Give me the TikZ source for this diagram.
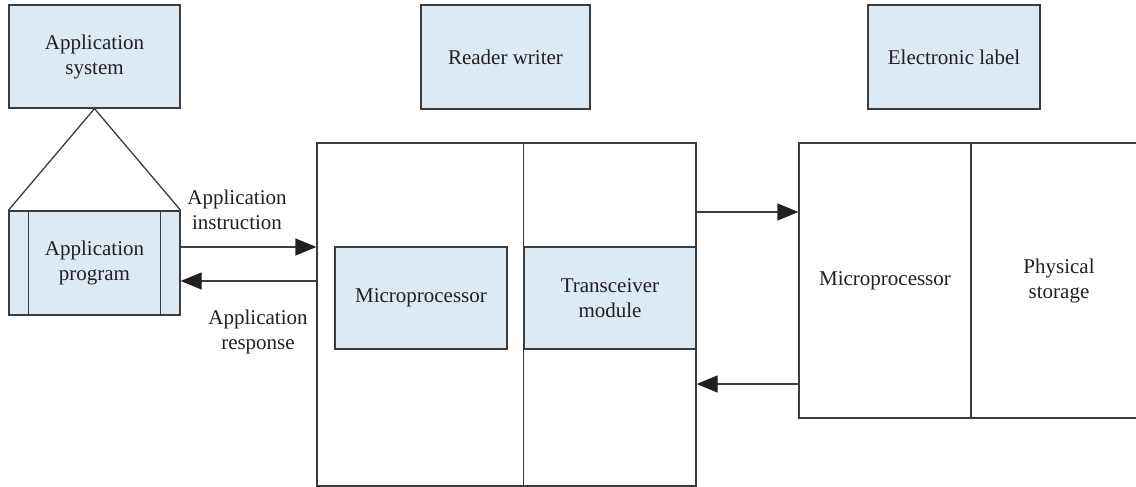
\documentclass[tikz,border=0pt]{standalone}
\usepackage{fontspec}
\setmainfont{Liberation Serif}
\usetikzlibrary{arrows.meta}
\definecolor{boxfill}{RGB}{221,233,243}
\definecolor{linegray}{RGB}{60,60,60}
\definecolor{ink}{RGB}{35,31,32}
\tikzset{
  x=1pt, y=-1pt,
  every node/.style={font=\rmfamily\fontsize{21}{25}\selectfont, text=ink, align=center, inner sep=0pt},
  bluebox/.style={draw=linegray, line width=1.3pt, fill=boxfill, rectangle},
  plainbox/.style={draw=linegray, line width=1.3pt, rectangle},
  wire/.style={draw=linegray, line width=1.3pt},
  arr/.style={wire, -{Triangle[length=21pt,width=17pt,fill=ink,color=ink]}},
}
\begin{document}
\begin{tikzpicture}
\useasboundingbox (0,0) rectangle (1136,487);
\clip (0,0) rectangle (1136,487);

% top row
\node[bluebox, minimum width=171pt, minimum height=103pt] (appsys) at (94.5,56.5) {Application\\system};
\node[bluebox, minimum width=169pt, minimum height=104pt] (reader) at (505.5,57) {Reader writer};
\node[bluebox, minimum width=172pt, minimum height=104pt] (elabel) at (954,57) {Electronic label};

% application program with side bars
\node[bluebox, minimum width=171pt, minimum height=104pt] (appprog) at (94.5,263) {Application\\program};
\draw[wire] ([xshift=20pt]appprog.north west) -- ([xshift=20pt]appprog.south west);
\draw[wire] ([xshift=-20pt]appprog.north east) -- ([xshift=-20pt]appprog.south east);
\draw[wire] (appprog.north west) -- (appsys.south) -- (appprog.north east);

% reader writer block
\node[plainbox, minimum width=379pt, minimum height=343pt] (rw) at (506.5,314.5) {};
\node[bluebox, minimum width=172pt, minimum height=102pt] (mp1) at (421,298) {Microprocessor};
\node[bluebox, minimum width=172pt, minimum height=102pt] (trans) at (610,298) {Transceiver\\module};
\draw[wire] (trans.west |- rw.north) -- (trans.west |- rw.south);

% electronic label block
\node[plainbox, minimum width=172pt, minimum height=275pt] (mp2) at (885,280.5) {Microprocessor};
\node[plainbox, minimum width=176pt, minimum height=275pt] (store) at (1059,280.5) {Physical\\storage};

% links
\draw[arr] ([yshift=16pt]appprog.east) -- ([yshift=16pt]appprog.east -| rw.west);
\draw[arr] ([yshift=-18pt]appprog.east -| rw.west) -- ([yshift=-18pt]appprog.east);
\draw[arr] (rw.east |- 0,212) -- (mp2.west |- 0,212);
\draw[arr] (mp2.west |- 0,384) -- (rw.east |- 0,384);

\node (instr) at (237,210) {Application\\instruction};
\node (resp) at (258,332) {Application\\response};
\end{tikzpicture}
\end{document}
